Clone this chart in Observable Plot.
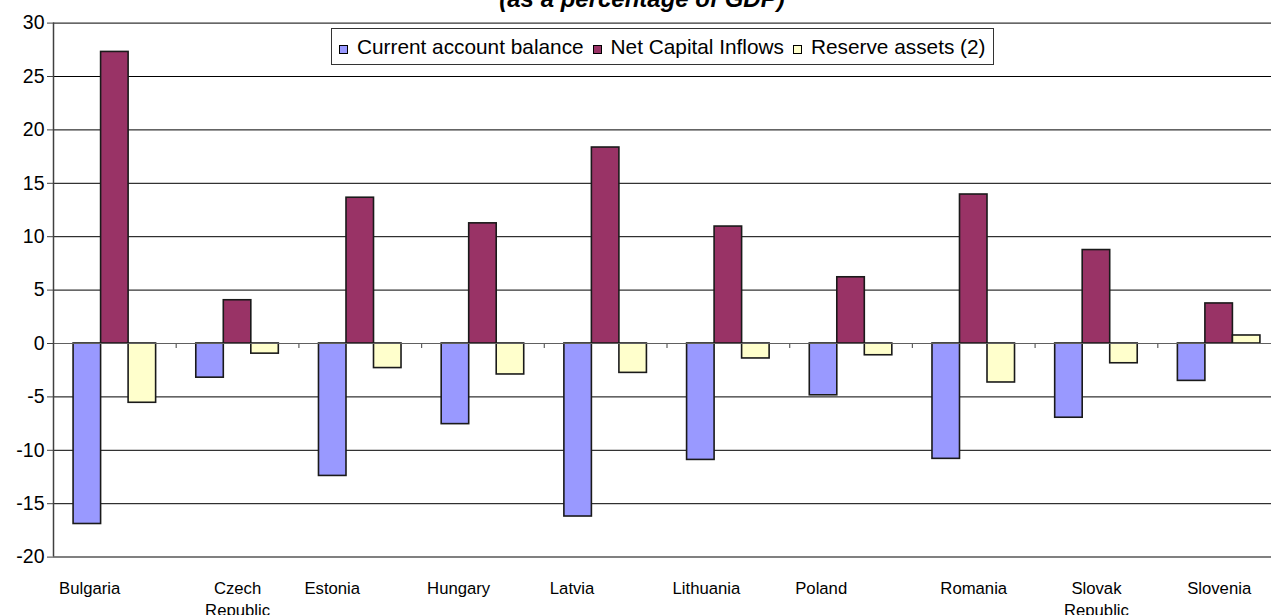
<!DOCTYPE html>
<html>
<head>
<meta charset="utf-8">
<script src="https://cdn.jsdelivr.net/npm/d3@7"></script>
<script src="https://cdn.jsdelivr.net/npm/@observablehq/plot@0.6"></script>
<style>
  html, body { margin: 0; padding: 0; background: #fff; overflow: hidden; }
  #wrap { position: relative; width: 1271px; height: 615px; overflow: hidden; font-family: "Liberation Sans", Arial, sans-serif; }
  #title { position: absolute; left: 0; width: 1284px; top: -13px; text-align: center; font: italic bold 24px/24px "Liberation Sans", Arial, sans-serif; color: #000; white-space: nowrap; }
  #legend { position: absolute; left: 331px; top: 28px; width: 663px; height: 37px; box-sizing: border-box; border: 1px solid #333; background: #fff; display: flex; align-items: center; padding-left: 7px; font-size: 20.8px; color: #000; white-space: nowrap; }
  #legend .sw { display: inline-block; width: 9px; height: 9px; box-sizing: border-box; border: 1px solid #000; position: relative; top: 3px; margin-right: 9px; }
  #legend .item { display: flex; align-items: center; margin-right: 9px; }
  #chart svg { max-width: none; display: block; }
</style>
</head>
<body>
<div id="wrap">
  <div id="chart"></div>
  <div id="title">(as a percentage of GDP)</div>
  <div id="legend"></div>
</div>
<script>
const countries = ["Bulgaria", "Czech Republic", "Estonia", "Hungary", "Latvia", "Lithuania", "Poland", "Romania", "Slovak Republic", "Slovenia"];
const seriesNames = ["Current account balance", "Net Capital Inflows", "Reserve assets (2)"];
const currentAccount = [-16.9, -3.2, -12.4, -7.55, -16.2, -10.9, -4.85, -10.8, -6.95, -3.5];
const netCapitalInflows = [27.3, 4.05, 13.65, 11.25, 18.35, 10.95, 6.2, 13.95, 8.75, 3.75];
const reserveAssets = [-5.55, -0.95, -2.3, -2.9, -2.75, -1.4, -1.1, -3.65, -1.85, 0.75];
const yTicks = [-20, -15, -10, -5, 0, 5, 10, 15, 20, 25, 30];
const seriesColors = ["#9999FF", "#993366", "#FFFFCC"];

// Excel places some single-line category labels left-aligned within their slot
const centeredLabels = new Set(["Czech Republic", "Romania", "Slovak Republic", "Slovenia"]);

const values = [currentAccount, netCapitalInflows, reserveAssets];
const rows = [];
countries.forEach((c, i) => {
  seriesNames.forEach((s, j) => rows.push({country: c, index: i, series: s, value: values[j][i]}));
});

// within-category band layout (Excel gap width)
const inner = d3.scaleBand().domain(seriesNames).range([0, 1]).paddingInner(0).paddingOuter(0.73);

const labels = countries.map((c, i) => ({country: c, index: i, text: c.replace(" ", "\n")}));

const chart = Plot.plot({
  width: 1271,
  height: 615,
  marginLeft: 53,
  marginRight: -9,
  marginTop: 22.6,
  marginBottom: 58.4,
  style: {fontFamily: "'Liberation Sans', Arial, sans-serif", background: "#fff", color: "#000"},
  x: {type: "linear", domain: [0, countries.length], axis: null},
  y: {domain: [-20, 30], axis: null},
  color: {domain: seriesNames, range: seriesColors},
  marks: [
    Plot.ruleY(yTicks.filter(t => t > -20 && t !== 0), {stroke: "#000", strokeWidth: 1}),
    Plot.rectY(rows, {
      x1: d => d.index + inner(d.series),
      x2: d => d.index + inner(d.series) + inner.bandwidth(),
      y1: 0,
      y2: "value",
      fill: "series",
      stroke: "#1a1a1a",
      strokeWidth: 1.6
    }),
    Plot.ruleY([0], {stroke: "#606060", strokeWidth: 1.2}),
    Plot.ruleX(d3.range(1, countries.length + 1), {y1: 0, y2: 0, insetBottom: -5, stroke: "#606060", strokeWidth: 1.2}),
    Plot.ruleY([-20], {stroke: "#808080", strokeWidth: 2}),
    Plot.ruleX([0], {stroke: "#404040", strokeWidth: 1.5}),
    Plot.axisY(yTicks, {label: null, tickSize: 6, tickPadding: 3, fontSize: 19.5, stroke: "#404040", fill: "#000", tickFormat: d => String(d)}),
    Plot.text(labels.filter(d => !centeredLabels.has(d.country)), {
      x: d => d.index + 0.045, y: () => -20, text: "text", textAnchor: "start",
      lineAnchor: "top", dy: 22.2, fontSize: 16.7, lineHeight: 1.27, fill: "#000"
    }),
    Plot.text(labels.filter(d => centeredLabels.has(d.country)), {
      x: d => d.index + 0.5, y: () => -20, text: "text", textAnchor: "middle",
      lineAnchor: "top", dy: 22.2, fontSize: 16.7, lineHeight: 1.27, fill: "#000"
    })
  ]
});
document.getElementById("chart").appendChild(chart);

const legend = document.getElementById("legend");
seriesNames.forEach((s, j) => {
  const item = document.createElement("span");
  item.className = "item";
  const sw = document.createElement("span");
  sw.className = "sw";
  sw.style.background = seriesColors[j];
  const t = document.createElement("span");
  t.textContent = s;
  item.appendChild(sw);
  item.appendChild(t);
  legend.appendChild(item);
});
</script>
</body>
</html>
